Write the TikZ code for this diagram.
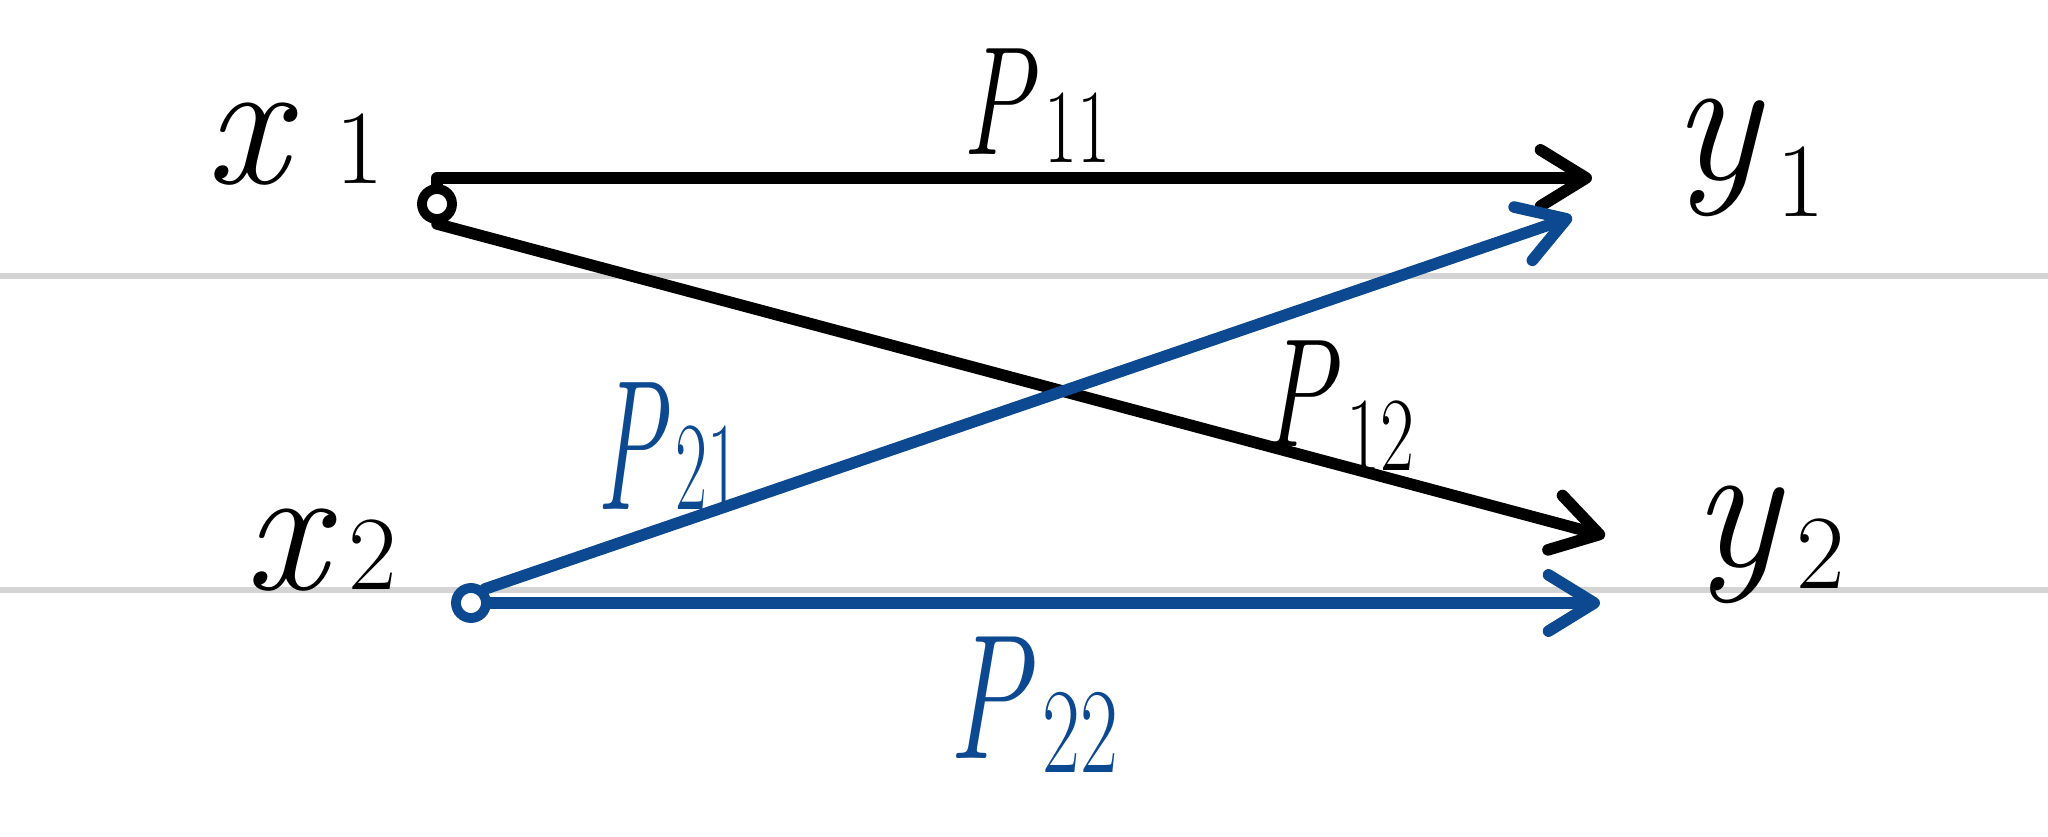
\documentclass[tikz,border=0pt]{standalone}
\usepackage{graphicx}
\usetikzlibrary{arrows.meta}
\definecolor{penblue}{RGB}{12,73,145}
\definecolor{ruled}{RGB}{212,212,212}
\newcommand{\hlab}[4]{\textit{#1}\kern0.06em\raisebox{-#4}{\fontsize{#3}{#3}\selectfont #2}}
\begin{document}
\begin{tikzpicture}[x=0.01cm,y=-0.01cm,
  ink/.style={line width=3.3pt, line cap=round, line join=round},
  conn/.style={ink, -{Straight Barb[length=13pt,width=16pt,round]}},
  dot/.style={circle, draw, line width=2.8pt, minimum size=0.3cm, inner sep=0pt},
  var/.style={font=\fontsize{52}{60}\selectfont, inner sep=0pt, anchor=base west},
  wt/.style={font=\fontsize{44}{50}\selectfont, inner sep=0pt, anchor=base west},
  ruleline/.style={draw=ruled, line width=1.6pt}]
\useasboundingbox (0,0) rectangle (2048,837);
\fill[white] (0,0) rectangle (2048,837);
\draw[ruleline] (0,276) -- (2048,276);
\draw[ruleline] (0,590) -- (2048,590);
% nodes
\node[dot, draw=black] (x1) at (437,204) {};
\node[dot, draw=penblue] (x2) at (471,603) {};
\coordinate (e11) at (1592,178);
\coordinate (e21) at (1572,217);
\coordinate (e12) at (1605,536);
\coordinate (e22) at (1600,603);
% labels
\node[var] (lx1) at (205,184) {\hlab{x\kern0.2em}{1}{30}{0em}};
\node[var] (lx2) at (244,590) {\hlab{x}{2}{30}{0em}};
\node[var] (ly1) at (1672,180) {\hlab{y}{1}{30}{0.2em}};
\node[var] (ly2) at (1692,567) {\hlab{y}{2}{30}{0.12em}};
\node[wt] (p11) at (962,155) {\scalebox{0.68}[1]{\hlab{P}{11}{30}{0.05em}}};
\node[wt] (p12) at (1262,447) {\scalebox{0.7}[1]{\hlab{P}{12}{30}{0.15em}}};
\node[wt, text=penblue] (p21) at (596,510) {\scalebox{0.66}[1.2]{\hlab{P}{21}{30}{0em}}};
\node[wt, text=penblue] (p22) at (948,758) {\scalebox{0.78}[1.15]{\hlab{P}{22}{30}{0.08em}}};
% connectors
\draw[conn] (x1.north) |- (e11);
\draw[conn] (x1.south) -- (e12);
\draw[conn, draw=penblue] (x2.north east) -- (e21);
\draw[conn, draw=penblue] (x2.east) -- (e22);
\end{tikzpicture}
\end{document}
